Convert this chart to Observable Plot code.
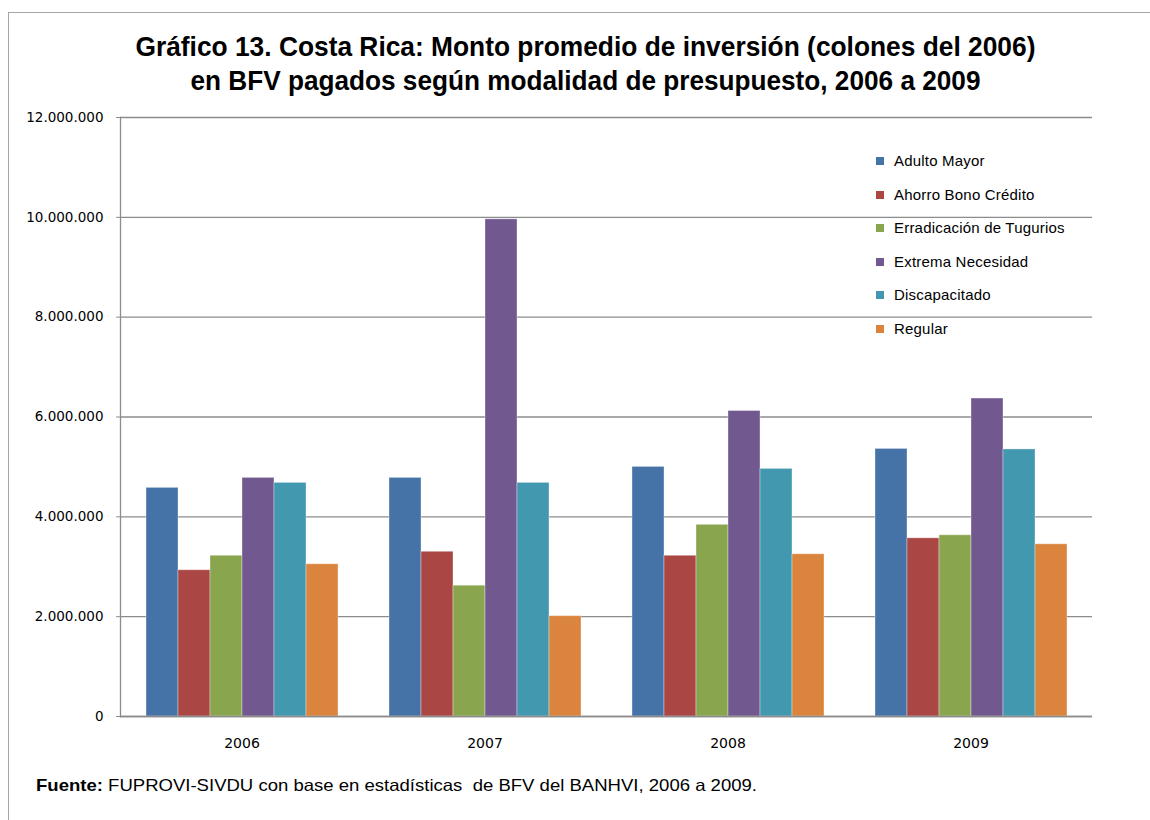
<!DOCTYPE html>
<html>
<head>
<meta charset="utf-8">
<script src="https://cdn.jsdelivr.net/npm/d3@7"></script>
<script src="https://cdn.jsdelivr.net/npm/@observablehq/plot@0.6"></script>
<style>
  html, body { margin: 0; padding: 0; background: #fff; width: 1150px; height: 820px; overflow: hidden; }
  #wrap { position: relative; width: 1150px; height: 820px; }
  #frame { position: absolute; left: 8px; top: 12px; width: 1200px; height: 900px; border: 1.5px solid #a6a6a6; box-sizing: border-box; }
  .title { position: absolute; left: 0; width: 1170px; text-align: center; font-family: "Liberation Sans Narrow", "Arial Narrow", "Liberation Sans", Arial, sans-serif; font-weight: bold; font-size: 28px; color: #000; white-space: nowrap; }
  .title span { display: inline-block; transform-origin: center; }
  #chart { position: absolute; left: 0; top: 0; }
  #legend { position: absolute; left: 876px; top: 151px; font-family: "Liberation Sans", Arial, sans-serif; font-size: 15px; color: #000; letter-spacing: 0.2px; }
  .li { position: absolute; left: 0; white-space: nowrap; height: 20px; line-height: 20px; }
  .sw { display: inline-block; width: 8px; height: 8px; margin-right: 10px; vertical-align: 1px; }
  #foot { position: absolute; left: 36px; top: 776px; font-family: "Liberation Sans Narrow", "Arial Narrow", "Liberation Sans", Arial, sans-serif; font-size: 16.5px; color: #000; white-space: nowrap; transform-origin: left center; }
</style>
</head>
<body>
<div id="wrap">
  <div id="frame"></div>
  <div class="title" style="top:31px"><span data-w="900">Gráfico 13. Costa Rica: Monto promedio de inversión (colones del 2006)</span></div>
  <div class="title" style="top:65px"><span data-w="790">en BFV pagados según modalidad de presupuesto, 2006 a 2009</span></div>
  <div id="chart"></div>
  <div id="legend"></div>
  <div id="foot" data-w="721"><b>Fuente:</b> FUPROVI-SIVDU con base en estadísticas&nbsp; de BFV del BANHVI, 2006 a 2009.</div>
</div>
<script>
const years = ["2006", "2007", "2008", "2009"];
const seriesNames = ["Adulto Mayor", "Ahorro Bono Crédito", "Erradicación de Tugurios", "Extrema Necesidad", "Discapacitado", "Regular"];
const seriesColors = ["#4572A7", "#AA4643", "#89A54E", "#71588F", "#4198AF", "#DB843D"];
const adultoMayor = [4580000, 4780000, 5000000, 5360000];
const ahorroBonoCredito = [2930000, 3300000, 3220000, 3570000];
const erradicacionTugurios = [3220000, 2620000, 3840000, 3630000];
const extremaNecesidad = [4780000, 9960000, 6120000, 6370000];
const discapacitado = [4680000, 4680000, 4960000, 5350000];
const regular = [3050000, 2010000, 3250000, 3450000];
const yTicks = [0, 2000000, 4000000, 6000000, 8000000, 10000000, 12000000];

const seriesValues = [adultoMayor, ahorroBonoCredito, erradicacionTugurios, extremaNecesidad, discapacitado, regular];
const data = [];
years.forEach((yr, i) => {
  seriesNames.forEach((s, j) => data.push({year: yr, series: s, value: seriesValues[j][i]}));
});

const fmt = d => d3.format(",")(d).replace(/,/g, ".");

const chart = Plot.plot({
  width: 1150,
  height: 760,
  marginLeft: 119,
  marginRight: 57,
  marginTop: 117,
  marginBottom: 44,
  style: { fontFamily: "DejaVu Sans, sans-serif", fontSize: "13.5px", color: "#000", background: "transparent" },
  fx: { domain: years, padding: 0, label: null },
  x: { domain: seriesNames, paddingInner: 0, paddingOuter: 0.75, axis: null },
  y: { domain: [0, 12000000], axis: null },
  color: { domain: seriesNames, range: seriesColors },
  marks: [
    Plot.gridY(yTicks, { stroke: "#8c8c8c", strokeOpacity: 1, strokeWidth: 1.3 }),
    Plot.barY(data, { fx: "year", x: "series", y: "value", fill: "series", stroke: "#fff", strokeOpacity: 0.35, strokeWidth: 1 }),
    Plot.ruleY([0], { stroke: "#8c8c8c", strokeWidth: 1.5 }),
    Plot.axisY(yTicks, { tickFormat: fmt, tickSize: 4, tickPadding: 13, stroke: "#8c8c8c", label: null, fontSize: "13.5px" }),
    Plot.frame({ anchor: "left", facetAnchor: "left", stroke: "#8c8c8c", strokeWidth: 1.3 }),
    Plot.axisFx({ anchor: "bottom", tickSize: 0, tickPadding: 22, label: null, fontSize: "14px" })
  ]
});
document.getElementById("chart").appendChild(chart);

const legend = document.getElementById("legend");
seriesNames.forEach((s, j) => {
  const row = document.createElement("div");
  row.className = "li";
  row.style.top = (j * 33.6) + "px";
  const sw = document.createElement("span");
  sw.className = "sw";
  sw.style.background = seriesColors[j];
  row.appendChild(sw);
  row.appendChild(document.createTextNode(s));
  legend.appendChild(row);
});

// fit titles / footer to target widths
document.querySelectorAll("[data-w]").forEach(el => {
  const target = +el.dataset.w;
  const w = el.getBoundingClientRect().width;
  if (w > 0) el.style.transform = `scaleX(${target / w})`;
});
</script>
</body>
</html>
